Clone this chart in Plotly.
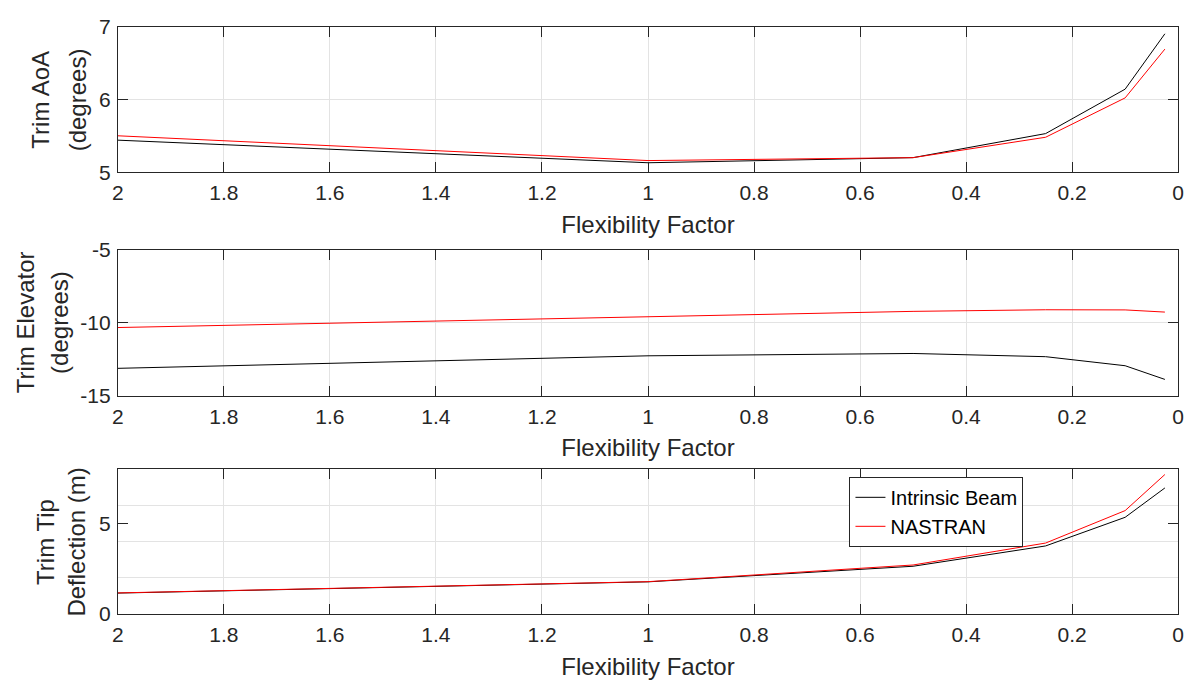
import plotly.graph_objects as go
from plotly.subplots import make_subplots

# Flexibility factor sweep
flex = [2, 1, 0.5, 0.25, 0.1, 0.025]

# Trim angle of attack (deg)
aoa_beam = [5.44, 5.13, 5.20, 5.53, 6.14, 6.90]
aoa_nastran = [5.50, 5.16, 5.20, 5.48, 6.02, 6.69]

# Trim elevator (deg)
elev_beam = [-13.13, -12.27, -12.11, -12.33, -12.95, -13.89]
elev_nastran = [-10.33, -9.60, -9.22, -9.11, -9.12, -9.27]

# Trim tip deflection (m)
tip_beam = [1.16, 1.78, 2.64, 3.76, 5.34, 6.96]
tip_nastran = [1.17, 1.79, 2.71, 3.92, 5.71, 7.70]

x_ticks = [2, 1.8, 1.6, 1.4, 1.2, 1, 0.8, 0.6, 0.4, 0.2, 0]
x_labels = ["2", "1.8", "1.6", "1.4", "1.2", "1", "0.8", "0.6", "0.4", "0.2", "0"]

# Two-line y-axis labels for each panel
ylabel_lines = [
    ["Trim AoA", "(degrees)"],
    ["Trim Elevator", "(degrees)"],
    ["Trim Tip", "Deflection (m)"],
]

W, H = 1198, 696
FONT = "Liberation Sans, Arial, sans-serif"
AX = "#262626"
GRID = "#e3e3e3"


def px_x(v):
    return v / W


def px_y(v):
    return 1 - v / H


fig = make_subplots(rows=3, cols=1)

panels = [
    (aoa_beam, aoa_nastran),
    (elev_beam, elev_nastran),
    (tip_beam, tip_nastran),
]
for i, (b, n) in enumerate(panels, start=1):
    fig.add_trace(go.Scatter(x=flex, y=b, mode="lines", name="Intrinsic Beam",
                             line=dict(color="black", width=1), showlegend=(i == 3)),
                  row=i, col=1)
    fig.add_trace(go.Scatter(x=flex, y=n, mode="lines", name="NASTRAN",
                             line=dict(color="red", width=1), showlegend=(i == 3)),
                  row=i, col=1)

xdom = [px_x(113), px_x(1184)]
panel_px = [(15, 165.7), (246, 396.7), (472.7, 622.7)]
ydoms = [[px_y(bot), px_y(top)] for top, bot in panel_px]

common_x = dict(
    range=[2, 0], tickvals=x_ticks, ticktext=x_labels,
    ticks="inside", ticklen=10, tickcolor=AX, mirror="ticks",
    showline=True, linecolor=AX, linewidth=1,
    showgrid=True, gridcolor=GRID, zeroline=False,
    tickfont=dict(family=FONT, size=21, color=AX),
    ticklabelstandoff=2,
    title=dict(text="Flexibility Factor", font=dict(family=FONT, size=24, color=AX), standoff=12),
)
common_y = dict(
    ticks="inside", ticklen=10, tickcolor=AX, mirror="ticks",
    showline=True, linecolor=AX, linewidth=1,
    showgrid=True, gridcolor=GRID, zeroline=False,
    tickfont=dict(family=FONT, size=21, color=AX),
    ticklabelstandoff=2,
)

for i in range(3):
    xk = "xaxis" if i == 0 else f"xaxis{i + 1}"
    yk = "yaxis" if i == 0 else f"yaxis{i + 1}"
    fig.layout[xk].update(domain=xdom, **common_x)
    fig.layout[yk].update(domain=ydoms[i], **common_y)

fig.layout.yaxis.update(range=[5, 7], tickvals=[5, 6, 7])
fig.layout.yaxis2.update(range=[-15, -5], tickvals=[-15, -10, -5], ticktext=["-15", "-10", "-5"])
fig.layout.yaxis3.update(
    range=[0, 8], tickvals=[0, 5], showgrid=False,
    minor=dict(tickvals=[2, 4, 6], showgrid=True, gridcolor=GRID, ticklen=0),
)

# Rotated y-axis labels, one annotation per line
label_x = [(34.7, 71.7), (19.7, 54.7), (39.7, 71.7)]
for (top, bot), lines, xs in zip(panel_px, ylabel_lines, label_x):
    for text, xc in zip(lines, xs):
        fig.add_annotation(
            text=text, xref="paper", yref="paper",
            x=px_x(xc), y=px_y((top + bot) / 2),
            xanchor="center", yanchor="middle", textangle=-90,
            showarrow=False, font=dict(family=FONT, size=24, color=AX),
        )

fig.update_layout(
    width=W, height=H,
    margin=dict(l=0, r=0, t=0, b=0),
    paper_bgcolor="white", plot_bgcolor="white",
    font=dict(family=FONT, color=AX),
    legend=dict(
        x=px_x(852), y=px_y(480.7), xanchor="left", yanchor="top",
        bgcolor="white", bordercolor=AX, borderwidth=1,
        font=dict(family=FONT, size=20, color="black"),
        tracegroupgap=0, itemwidth=30,
    ),
)

fig.write_html(
    "out.html",
    post_script="document.body.style.margin='0';document.body.style.overflow='hidden';",
)
